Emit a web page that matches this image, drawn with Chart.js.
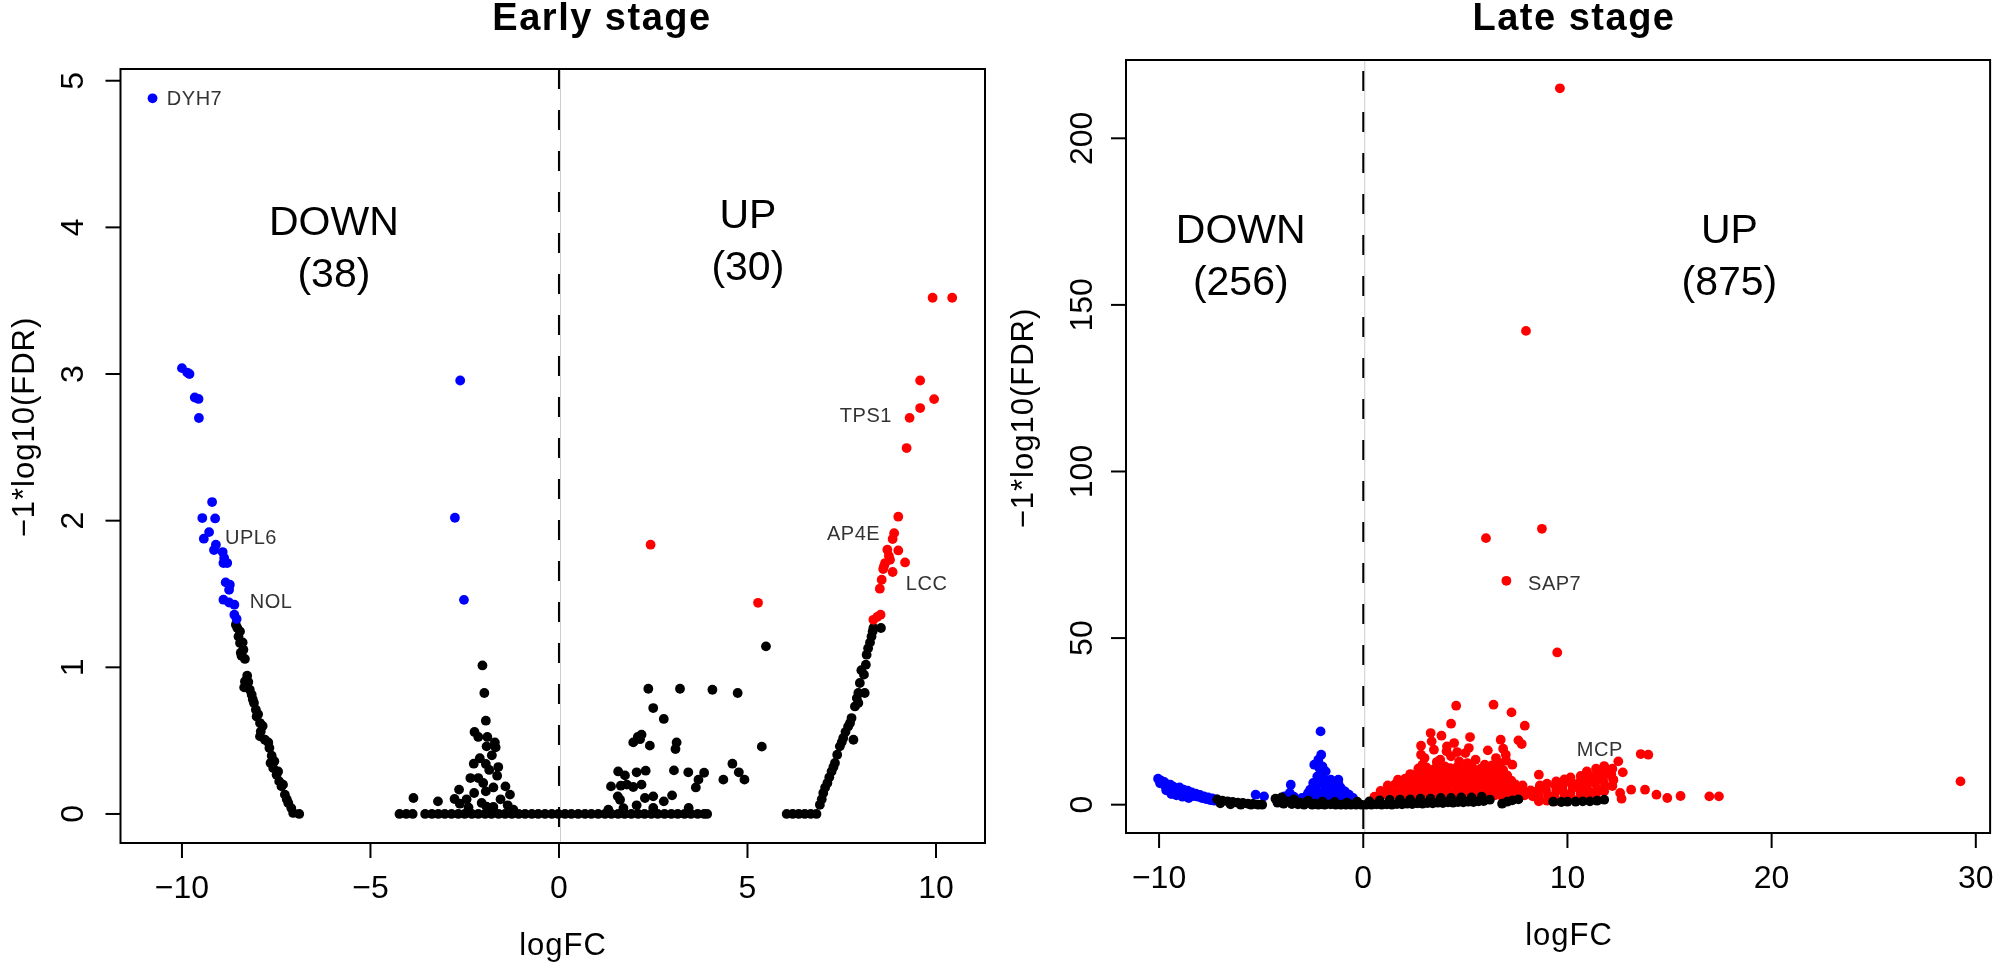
<!DOCTYPE html>
<html>
<head>
<meta charset="utf-8">
<script src="https://cdn.jsdelivr.net/npm/chart.js@4"></script>
<style>
  html, body { margin: 0; padding: 0; background: #fff; }
  body { width: 1995px; height: 965px; position: relative; overflow: hidden; }
  canvas { position: absolute; top: 0; }
  #early { left: 0; }
  #late { left: 1000px; }
</style>
</head>
<body>
<canvas id="early" width="1000" height="965"></canvas>
<canvas id="late" width="995" height="965"></canvas>
<script>
// ---- Early stage: [logFC, -log10(FDR)] ----
const earlyDown = [
  [-10.78,4.88],[-10.0,3.04],[-9.86,3.01],[-9.8,3.0],[-9.66,2.84],[-9.56,2.83],[-9.55,2.7],
  [-9.2,2.127],[-9.46,2.018],[-9.12,2.015],[-9.28,1.922],[-9.42,1.877],[-9.1,1.836],[-9.15,1.8],
  [-8.92,1.786],[-8.88,1.745],[-8.9,1.711],[-8.8,1.711],[-8.84,1.579],[-8.73,1.563],[-8.75,1.529],
  [-8.9,1.461],[-8.75,1.442],[-8.61,1.427],[-8.61,1.359],[-8.55,1.329],
  [-2.62,2.956],[-2.76,2.02],[-2.52,1.46]
];
const earlyUp = [
  [2.43,1.836],[5.28,1.44],[8.34,1.324],[8.44,1.343],[8.53,1.359],[8.51,1.536],[8.56,1.597],
  [8.6,1.67],[8.65,1.711],[8.78,1.733],[8.85,1.65],[8.71,1.802],[9.0,1.797],[9.18,1.715],
  [8.85,1.875],[8.89,1.915],[9.0,2.027],[8.62,1.69],[8.75,1.76],
  [9.22,2.495],[9.3,2.701],[9.58,2.768],[9.95,2.829],[9.58,2.956],[9.91,3.52],[10.43,3.52]
];
const earlyOther = [
  // left arm
  [-8.57,1.29],[-8.53,1.268],[-8.46,1.245],[-8.5,1.21],[-8.46,1.166],[-8.39,1.17],[-8.37,1.12],
  [-8.44,1.1],[-8.42,1.079],[-8.33,1.057],[-8.27,0.943],[-8.33,0.904],[-8.24,0.9],[-8.35,0.863],
  [-8.2,0.847],[-8.15,0.813],[-8.12,0.78],[-8.09,0.757],[-8.04,0.711],[-7.98,0.68],[-8.02,0.665],
  [-7.93,0.62],[-7.86,0.6],[-7.91,0.563],[-7.93,0.529],[-7.8,0.506],[-7.71,0.488],[-7.68,0.45],
  [-7.62,0.397],[-7.55,0.36],[-7.65,0.348],[-7.58,0.314],[-7.45,0.29],[-7.49,0.268],[-7.42,0.222],
  [-7.32,0.2],[-7.36,0.188],[-7.27,0.132],[-7.22,0.1],[-7.18,0.075],[-7.1,0.04],[-7.05,0.007],[-6.89,0],
  // left of zero
  [-2.03,1.013],[-1.98,0.825],[-1.94,0.636],[-2.24,0.559],[-2.14,0.525],[-1.9,0.525],[-1.7,0.488],
  [-1.92,0.461],[-1.68,0.454],[-1.78,0.4],[-2.26,0.343],[-1.94,0.341],[-1.61,0.32],[-1.64,0.261],
  [-2.35,0.245],[-2.14,0.245],[-2.01,0.211],[-1.74,0.181],[-2.65,0.166],[-1.94,0.154],[-1.42,0.188],
  [-1.3,0.132],[-2.25,0.143],[-3.86,0.109],[-3.21,0.086],[-2.77,0.102],[-2.63,0.07],[-2.05,0.075],
  [-1.74,0.048],[-1.36,0.059],[-2.4,0.045],[-1.92,0.05],[-1.21,0.029],[-1.85,0.3],[-2.1,0.38],
  [-1.55,0.1],[-2.45,0.1],
  // right of zero
  [2.37,0.854],[3.21,0.854],[4.07,0.847],[4.74,0.825],[2.5,0.722],[2.78,0.648],[2.19,0.541],
  [2.09,0.525],[1.97,0.488],[2.41,0.466],[3.12,0.488],[3.09,0.443],[1.57,0.29],[1.75,0.263],
  [2.06,0.284],[2.3,0.295],[3.05,0.297],[3.43,0.284],[3.85,0.281],[4.6,0.343],[4.77,0.284],
  [4.36,0.234],[4.92,0.234],[3.7,0.234],[3.63,0.181],[1.38,0.188],[1.64,0.193],[1.97,0.184],
  [2.19,0.2],[1.56,0.12],[1.62,0.097],[2.28,0.109],[2.5,0.12],[2.78,0.086],[3.0,0.127],
  [2.06,0.059],[2.5,0.041],[3.44,0.041],[1.31,0.029],[1.71,0.04],[5.49,1.143],[5.38,0.459],
  [2.15,0.51],[1.8,0.2],
  // right arm
  [6.04,0],[6.2,0],[6.36,0],[6.52,0],[6.68,0],[6.83,0],[6.92,0.063],[6.97,0.1],[7.01,0.143],
  [7.06,0.18],[7.12,0.211],[7.17,0.25],[7.23,0.29],[7.28,0.32],[7.32,0.348],[7.38,0.404],
  [7.45,0.461],[7.5,0.49],[7.54,0.518],[7.6,0.56],[7.81,0.506],[7.67,0.597],[7.72,0.62],
  [7.76,0.654],[7.9,0.79],[7.85,0.733],[7.94,0.757],[7.94,0.825],[7.98,0.893],[8.11,0.825],
  [8.02,0.98],[8.09,0.95],[8.14,1.018],[8.16,1.086],[8.2,1.13],[8.29,1.21],[8.25,1.17],
  [8.32,1.245],[8.34,1.268],[8.54,1.268]
];
// points lying on -log10(FDR) = 0 across the middle
const earlyZeroX = [
  -4.23,-4.05,-3.88,-3.55,-3.37,-3.2,-3.03,-2.85,-2.67,-2.5,-2.31,-2.14,-1.96,-1.79,-1.6,-1.43,
  -1.25,-1.07,-0.9,-0.72,-0.55,-0.37,-0.19,-0.02,0.16,0.33,0.51,0.69,0.86,1.04,1.22,1.39,1.57,
  1.74,1.92,2.1,2.27,2.45,2.62,2.8,2.98,3.15,3.33,3.5,3.68,3.85,3.93
];

// ---- Late stage ----
const lateDown = [
  [-10.05,7.8],[-9.9,7.2],[-9.95,6.4],[-9.75,6.8],[-9.7,5.6],[-9.6,6.1],[-9.5,5.0],[-9.45,6.0],
  [-9.35,4.4],[-9.3,5.4],[-9.2,3.6],[-9.1,4.8],[-9.0,5.2],[-8.95,3.9],[-8.8,4.5],[-8.7,3.4],
  [-8.6,4.2],[-8.5,3.0],[-8.4,3.7],[-8.3,2.6],[-8.2,3.3],[-8.1,2.4],[-8.0,2.9],[-7.9,2.0],
  [-7.8,2.5],[-7.7,1.7],[-7.6,2.2],[-7.5,1.4],[-7.4,1.9],[-7.3,1.2],[-7.2,1.6],[-9.65,4.3],
  [-9.4,3.2],[-9.15,2.8],[-8.85,2.4],[-8.55,2.0],
  [-2.09,22.0],[-2.06,15.0],[-2.4,12.0],[-2.2,13.5],[-1.84,10.0],[-2.0,9.0],[-2.25,8.5],
  [-1.59,7.5],[-1.22,7.5],[-1.4,6.5],[-1.7,6.0],[-2.0,6.5],[-2.3,5.5],[-2.6,4.5],[-1.1,5.0],
  [-0.9,4.0],[-1.3,4.5],[-1.6,4.0],[-1.9,3.8],[-2.2,3.5],[-2.5,3.0],[-2.8,2.5],[-0.7,3.0],
  [-1.0,2.8],[-1.35,3.0],[-1.75,2.8],[-2.05,2.6],[-0.5,2.0],[-0.8,1.8],[-1.5,2.2],
  [-2.15,11.0],[-2.0,11.5],[-1.95,8.0],[-2.3,7.0],[-1.55,5.5],[-1.85,5.0],[-2.45,6.5],
  [-1.0,3.8],[-0.65,2.4],[-1.2,6.0],[-2.7,3.5],[-2.35,2.0],[-1.65,1.6],[-1.2,1.5],[-0.45,1.2],
  [-3.55,6.0],[-3.6,3.5],[-3.4,2.4],[-3.0,2.0],[-5.27,3.0],[-4.86,2.5],[-3.86,2.5]
];
const lateUp = [
  // outliers
  [9.63,215],[7.97,142.2],[8.75,82.8],[6.01,80.0],[7.01,67.2],[9.5,45.7],[29.25,7.0],
  // upper part of the cloud
  [4.55,29.7],[6.38,30.0],[7.26,27.7],[4.3,24.3],[7.91,23.7],[3.3,21.5],[3.83,20.7],[5.23,20.3],
  [6.73,19.5],[7.6,19.3],[7.76,18.2],[2.83,17.7],[4.45,18.5],[3.46,16.5],[5.17,17.0],[2.83,15.0],
  [4.08,16.0],[6.98,15.0],[3.77,13.5],[4.7,13.0],[5.95,12.0],[6.73,12.5],[3.0,14.0],[3.6,12.8],
  [4.3,14.5],[5.5,13.5],[6.5,14.0],[7.0,13.2],[2.9,12.0],[4.0,11.5],[5.1,12.5],[6.3,11.8],
  [7.3,12.0],[3.35,19.0],[4.1,17.5],[5.0,15.5],[6.85,16.8],[4.6,15.8],[5.3,11.2],[6.1,16.3],
  [8.6,9.0],
  // far right
  [13.59,15.2],[13.96,15.0],[12.49,13.0],[12.71,9.7],[12.24,7.5],[13.12,4.5],[13.8,4.5],
  [14.36,3.0],[14.89,2.0],[15.54,2.6],[16.95,2.5],[17.42,2.5],[12.58,3.5],[12.65,1.8],
  // dense cloud
  [0.55,2.4],[0.9,2.8],[1.3,2.5],[1.65,2.9],[2.05,2.6],[2.4,2.7],[2.8,2.4],[3.15,2.8],[3.5,2.6],
  [3.9,2.9],[4.25,2.5],[4.6,2.8],[5.0,2.7],[5.35,2.5],[5.7,2.9],[6.1,2.6],[6.45,2.8],[6.8,2.5],
  [7.2,2.7],[7.55,2.4],[7.9,2.8],[8.3,2.5],
  [0.85,4.1],[1.2,4.4],[1.6,4.0],[1.95,4.3],[2.3,4.2],[2.7,4.5],[3.05,4.0],[3.45,4.3],[3.8,4.2],
  [4.15,4.4],[4.55,4.0],[4.9,4.3],[5.3,4.1],[5.65,4.4],[6.0,4.2],[6.4,4.0],[6.75,4.3],[7.1,4.1],
  [7.5,4.4],[7.85,4.0],[8.2,4.3],
  [1.2,5.8],[1.55,6.1],[1.95,5.7],[2.3,6.0],[2.65,5.9],[3.05,6.2],[3.4,5.8],[3.8,6.0],[4.15,5.9],
  [4.5,6.1],[4.9,5.7],[5.25,6.0],[5.6,5.8],[6.0,6.2],[6.35,5.9],[6.7,6.0],[7.1,5.7],[7.45,6.1],
  [7.8,5.8],
  [1.7,7.5],[2.05,7.8],[2.45,7.4],[2.8,7.7],[3.2,7.6],[3.55,7.9],[3.9,7.5],[4.3,7.7],[4.65,7.6],
  [5.05,7.8],[5.4,7.4],[5.75,7.7],[6.15,7.6],[6.5,7.8],[6.85,7.5],[7.25,7.2],
  [2.3,9.2],[2.65,9.5],[3.0,9.1],[3.4,9.4],[3.75,9.3],[4.15,9.6],[4.5,9.2],[4.85,9.4],[5.25,9.3],
  [5.6,9.5],[6.0,9.1],[6.35,9.4],[6.7,9.0],[7.05,8.8],
  [2.7,10.9],[3.1,11.2],[3.5,10.8],[3.85,11.1],[4.25,11.0],[4.6,11.3],[5.0,10.9],[5.35,11.1],
  [5.75,10.8],[6.1,11.0],[6.5,10.7],[6.85,10.4],
  // rising arm on the right
  [8.6,1.0],[8.6,2.6],[8.55,4.3],[8.65,5.8],[9.0,1.2],[9.05,2.8],[8.95,4.5],[9.0,6.3],
  [9.4,1.0],[9.35,2.6],[9.45,4.2],[9.4,5.8],[9.45,7.0],[9.8,1.5],[9.85,3.0],[9.75,4.6],
  [9.8,6.2],[9.85,7.6],[10.2,1.8],[10.15,3.4],[10.25,5.0],[10.2,6.6],[10.15,8.2],
  [10.6,2.0],[10.65,3.6],[10.55,5.2],[10.6,6.8],[10.65,8.6],[11.0,2.5],[11.05,4.0],
  [10.95,5.6],[11.0,7.2],[11.05,8.8],[10.95,10.0],[11.4,3.2],[11.45,4.8],[11.35,6.4],
  [11.4,8.0],[11.45,9.6],[11.4,10.8],[11.8,4.0],[11.85,5.6],[11.75,7.2],[11.8,8.8],
  [11.85,10.4],[11.8,11.6],[12.2,5.6],[12.25,7.4],[12.15,9.0],[12.2,10.8]
];
const lateOther = [
  [-7.15,1.6],[-6.9,1.2],[-6.65,1.0],[-6.4,0.8],[-6.15,0.6],[-5.9,0.5],[-5.65,0.3],[-5.4,0.2],
  [-5.15,0.0],[-4.95,0.0],[-7.0,0.4],[-6.5,0.1],[-6.0,0.0],[-5.5,0.0],
  [-4.3,1.8],[-4.1,1.5],[-3.85,1.2],[-3.6,1.0],[-3.35,0.8],[-3.1,0.6],[-2.85,0.5],[-2.6,0.4],
  [-2.35,0.3],[-2.1,0.2],[-1.85,0.1],[-1.6,0.1],[-1.35,0.0],[-1.1,0.0],[-0.85,0.0],[-0.6,0.0],
  [-0.35,0.0],[-0.1,0.0],[-4.2,0.6],[-3.9,0.3],[-3.5,0.2],[-3.2,0.1],[-2.9,0.0],[-2.5,0.0],
  [-2.2,0.0],[-1.9,0.0],[-4.0,2.2],[-3.4,1.6],[-2.7,1.2],[-2.0,0.9],[-1.4,0.8],[-0.8,0.6],
  [-0.3,0.9],
  [0.15,0.0],[0.4,0.0],[0.65,0.1],[0.9,0.0],[1.15,0.1],[1.4,0.0],[1.65,0.2],[1.9,0.1],[2.15,0.3],
  [2.4,0.2],[2.65,0.4],[2.9,0.3],[3.15,0.5],[3.4,0.4],[3.65,0.6],[3.9,0.5],[4.15,0.7],[4.4,0.6],
  [4.65,0.8],[4.9,0.7],[5.15,0.9],[5.4,0.8],[5.65,1.0],[5.9,1.1],[0.3,1.0],[0.8,1.3],[1.3,1.4],
  [1.8,1.5],[2.3,1.6],[2.8,1.8],[3.3,1.8],[3.8,2.0],[4.3,2.0],[4.8,2.2],[5.3,2.2],[5.8,2.4],
  [6.2,1.5],[6.8,0.3],[7.05,0.9],[7.3,1.3],[7.6,1.6],[9.3,0.9],[9.7,0.8],[10.0,0.9],[10.4,0.9],
  [10.75,1.0],[11.1,1.0],[11.45,1.2],[11.8,1.5]
];

const earlyXTicks = [-10, -5, 0, 5, 10];
const earlyYTicks = [0, 1, 2, 3, 4, 5];
const lateXTicks = [-10, 0, 10, 20, 30];
const lateYTicks = [0, 50, 100, 150, 200];

const earlyRegions = [{ x: -5.97, y: 4.05, lines: ['DOWN', '(38)'] }, { x: 5.01, y: 4.1, lines: ['UP', '(30)'] }];
const lateRegions = [{ x: -6.0, y: 173.1, lines: ['DOWN', '(256)'] }, { x: 17.93, y: 173.1, lines: ['UP', '(875)'] }];
const earlyGenes = [
  { x: -10.4, y: 4.883, text: 'DYH7' }, { x: -8.86, y: 1.89, text: 'UPL6' }, { x: -8.2, y: 1.454, text: 'NOL' },
  { x: 7.45, y: 2.72, text: 'TPS1' }, { x: 7.11, y: 1.917, text: 'AP4E' }, { x: 9.2, y: 1.576, text: 'LCC' }
];
const lateGenes = [{ x: 8.07, y: 66.6, text: 'SAP7' }, { x: 10.46, y: 16.8, text: 'MCP' }];

const FONT = '"Liberation Sans", Arial, Helvetica, sans-serif';
const minus = v => String(v).replace('-', '\u2212');
const pts = arr => arr.map(p => ({ x: p[0], y: p[1] }));

const rPlot = {
  id: 'rPlot',
  beforeDatasetsDraw(chart, args, c) {
    const ctx = chart.ctx, a = chart.chartArea;
    const x0 = chart.scales.x.getPixelForValue(0);
    ctx.save();
    ctx.strokeStyle = '#cccccc'; ctx.lineWidth = 1;
    ctx.beginPath(); ctx.moveTo(x0 + 1.5, a.top); ctx.lineTo(x0 + 1.5, a.bottom); ctx.stroke();
    ctx.strokeStyle = '#000'; ctx.lineWidth = 2;
    ctx.setLineDash([20, 21]); ctx.lineDashOffset = c.dashOffset;
    ctx.beginPath(); ctx.moveTo(x0, a.top); ctx.lineTo(x0, a.bottom); ctx.stroke();
    ctx.restore();
  },
  afterDraw(chart, args, c) {
    const ctx = chart.ctx, a = chart.chartArea;
    const xs = chart.scales.x, ys = chart.scales.y;
    ctx.save();
    ctx.strokeStyle = '#000'; ctx.lineWidth = 2;
    ctx.strokeRect(a.left, a.top, a.right - a.left, a.bottom - a.top);

    ctx.fillStyle = '#000';
    ctx.font = '32px ' + FONT;
    ctx.textAlign = 'center'; ctx.textBaseline = 'alphabetic';
    c.xTicks.forEach(v => {
      const px = xs.getPixelForValue(v);
      ctx.beginPath(); ctx.moveTo(px, a.bottom); ctx.lineTo(px, a.bottom + 15); ctx.stroke();
      ctx.fillText(minus(v), px, c.xTickBase);
    });
    c.yTicks.forEach(v => {
      const py = ys.getPixelForValue(v);
      ctx.beginPath(); ctx.moveTo(a.left - 15, py); ctx.lineTo(a.left, py); ctx.stroke();
      ctx.save(); ctx.translate(c.yTickBase, py); ctx.rotate(-Math.PI / 2);
      ctx.fillText(minus(v), 0, 0); ctx.restore();
    });

    ctx.font = '31px ' + FONT;
    ctx.letterSpacing = '1px';
    ctx.fillText('logFC', c.xTitle[0], c.xTitle[1]);
    ctx.save(); ctx.translate(c.yTitle[0], c.yTitle[1]); ctx.rotate(-Math.PI / 2);
    ctx.fillText('\u22121*log10(FDR)', 0, 0); ctx.restore();

    ctx.font = 'bold 38px ' + FONT;
    ctx.letterSpacing = '1.5px';
    ctx.fillText(c.title, c.titlePos[0], 30);

    ctx.font = '41px ' + FONT;
    ctx.letterSpacing = '0px';
    c.regions.forEach(r => {
      const px = xs.getPixelForValue(r.x), py = ys.getPixelForValue(r.y);
      r.lines.forEach((t, i) => ctx.fillText(t, px, py + 15 + i * 52));
    });

    ctx.font = '20px ' + FONT;
    ctx.letterSpacing = '0.5px';
    ctx.fillStyle = '#333';
    ctx.textAlign = 'left';
    c.genes.forEach(g => {
      ctx.fillText(g.text, xs.getPixelForValue(g.x), ys.getPixelForValue(g.y) + 7);
    });
    ctx.restore();
  }
};

function ds(data, color, order) {
  return { data: pts(data), backgroundColor: color, pointBackgroundColor: color,
    pointBorderWidth: 0, pointRadius: 4.9, order: order };
}

function panel(id, datasets, range, padding, cfg) {
  return new Chart(document.getElementById(id), {
    type: 'scatter',
    data: { datasets: datasets },
    options: {
      responsive: false, animation: false, events: [], devicePixelRatio: 1,
      layout: { padding: padding },
      scales: {
        x: { type: 'linear', min: range[0], max: range[1], display: false },
        y: { type: 'linear', min: range[2], max: range[3], display: false }
      },
      plugins: { legend: { display: false }, tooltip: { enabled: false }, rPlot: cfg }
    },
    plugins: [rPlot]
  });
}

const earlyZero = earlyZeroX.map(x => [x, 0]);

panel('early',
  [ds(earlyDown, '#0000ff', 0), ds(earlyUp, '#ff0000', 1), ds(earlyOther.concat(earlyZero), '#000000', 2)],
  [-11.63, 11.3, -0.198, 5.08],
  { left: 120.5, right: 15, top: 69, bottom: 122 },
  { title: 'Early stage', titlePos: [602, 30], xTicks: earlyXTicks, yTicks: earlyYTicks,
    xTickBase: 898, yTickBase: 83, xTitle: [563, 955], yTitle: [34, 427],
    regions: earlyRegions, genes: earlyGenes, dashOffset: 0 });

panel('late',
  [ds(lateOther, '#000000', 0), ds(lateDown, '#0000ff', 1), ds(lateUp, '#ff0000', 2)],
  [-11.62, 30.7, -8.5, 223.5],
  { left: 126, right: 4, top: 60, bottom: 132 },
  { title: 'Late stage', titlePos: [574, 30], xTicks: lateXTicks, yTicks: lateYTicks,
    xTickBase: 888, yTickBase: 92, xTitle: [569, 945], yTitle: [33, 418],
    regions: lateRegions, genes: lateGenes, dashOffset: 30 });
</script>
</body>
</html>
